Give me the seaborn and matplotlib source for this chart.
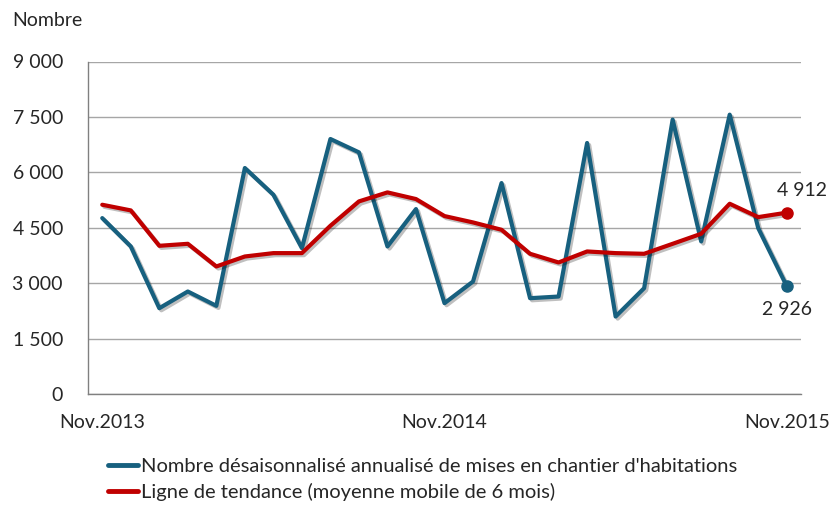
import pandas as pd
import seaborn as sns
import matplotlib.pyplot as plt
import matplotlib.patheffects as pe
from matplotlib.ticker import FuncFormatter

# Monthly values, Nov. 2013 -> Nov. 2015
months = pd.date_range("2013-11-01", "2015-11-01", freq="MS")
starts = [4765, 3998, 2328, 2780, 2392, 6119, 5397, 3953, 6904, 6543, 3998, 5009,
          2464, 3050, 5713, 2599, 2644, 6796, 2103, 2870, 7428, 4133, 7563, 4494, 2926]
trend = [5126, 4973, 4016, 4070, 3457, 3727, 3818, 3818, 4558, 5216, 5460, 5280,
         4820, 4648, 4449, 3800, 3565, 3863, 3818, 3800, 4070, 4341, 5153, 4792, 4912]
tick_labels = ["Nov.2013", "Nov.2014", "Nov.2015"]
series_names = ["Nombre désaisonnalisé annualisé de mises en chantier d'habitations",
                "Ligne de tendance (moyenne mobile de 6 mois)"]
colors = ["#17607F", "#C00000"]

df = pd.DataFrame({"idx": range(len(months)), series_names[0]: starts, series_names[1]: trend})
df_long = df.melt(id_vars="idx", var_name="serie", value_name="valeur")

sns.set_style("white")
plt.rcParams["font.family"] = ["Lato", "DejaVu Sans"]

fig = plt.figure(figsize=(8.33, 5.07), dpi=100)
ax = fig.add_axes([88 / 833, 1 - 394.3 / 507, 713 / 833, 332.8 / 507])

# soft drop shadow under the lines
shadow = [pe.SimpleLineShadow(offset=(1.5, -1.5), alpha=0.25), pe.Normal()]
sns.lineplot(data=df_long, x="idx", y="valeur", hue="serie", palette=colors,
             linewidth=3, ax=ax, legend=False, path_effects=shadow)

# end point markers and labels
last = len(months) - 1
ax.plot(last, starts[-1], "o", color=colors[0], markersize=8)
ax.plot(last, trend[-1], "o", color=colors[1], markersize=8)
fmt = lambda v: f"{v:,.0f}".replace(",", " ")
ax.annotate(fmt(trend[-1]), (last, trend[-1]), xytext=(-7, 10), textcoords="offset points",
            fontsize=14, ha="left", va="bottom")
ax.annotate(fmt(starts[-1]), (last, starts[-1]), xytext=(0, -11), textcoords="offset points",
            fontsize=14, ha="center", va="top")

# axes
ax.set_xlim(-0.5, last + 0.5)
ax.set_ylim(0, 9000)
ax.set_yticks(range(0, 9001, 1500))
ax.yaxis.set_major_formatter(FuncFormatter(lambda v, p: fmt(v)))
ax.set_xticks([0, 12, 24])
ax.set_xticklabels(tick_labels)
ax.set_xticks([i * 0.5 - 0.5 for i in range(2 * len(months) + 1)], minor=True)
ax.tick_params(axis="x", which="major", length=0, pad=14, labelsize=14)
ax.tick_params(axis="x", which="minor", length=6, color="#808080", width=1, direction="out")
ax.tick_params(axis="y", length=0, pad=18, labelsize=14)
for lab in ax.get_yticklabels():
    lab.set_horizontalalignment("right")
ax.set_xlabel("")
ax.set_ylabel("")
ax.grid(axis="y", color="#A6A6A6", linewidth=1)
ax.set_axisbelow(True)
for s in ["top", "right"]:
    ax.spines[s].set_visible(False)
for s in ["left", "bottom"]:
    ax.spines[s].set_color("#808080")
    ax.spines[s].set_linewidth(1)

fig.text(12 / 833, 1 - 20 / 507, "Nombre", fontsize=14, va="center", ha="left")

# legend below the plot
handles = [plt.Line2D([], [], color=c, linewidth=3.5) for c in colors]
fig.legend(handles, series_names, loc="upper left", bbox_to_anchor=(100 / 833, 1 - 450 / 507),
           frameon=False, fontsize=14.5, handlelength=1.5, handletextpad=0.15,
           labelspacing=0.4, borderaxespad=0)

fig.savefig("out.png", dpi=100)
